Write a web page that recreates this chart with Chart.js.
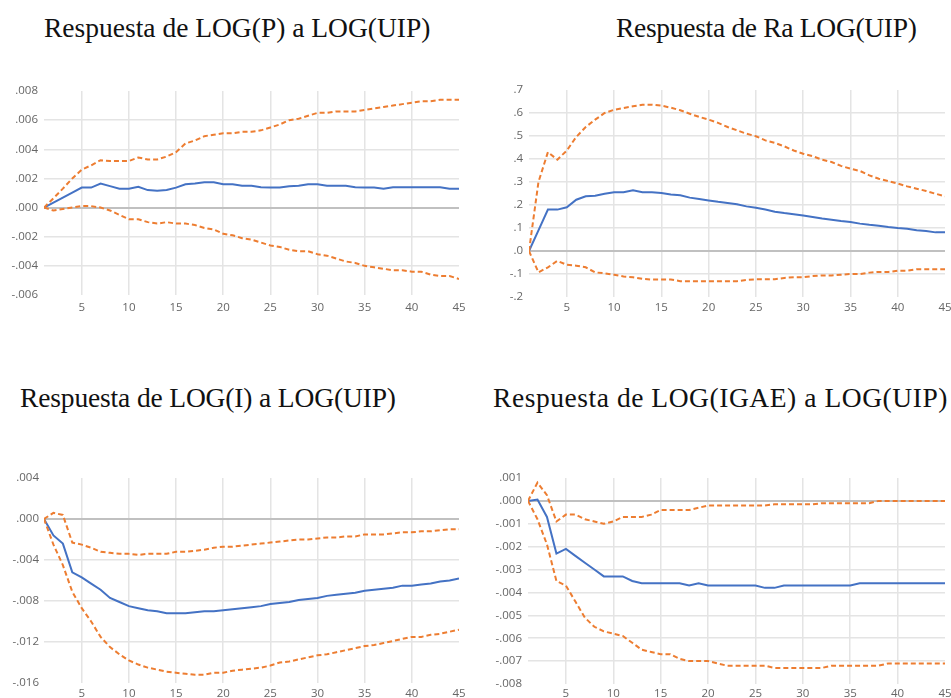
<!DOCTYPE html>
<html lang="es">
<head>
    <meta charset="UTF-8">
    <title>Respuestas a LOG(UIP)</title>
    <script src="https://cdn.jsdelivr.net/npm/chart.js"></script>
    <style>
        html, body { margin: 0; padding: 0; background: #fff; overflow: hidden; }
        body { width: 951px; height: 698px; position: relative; }
        .title {
            position: absolute;
            font-family: "Liberation Serif", "Times New Roman", serif;
            font-size: 27.5px;
            line-height: 1;
            color: #111;
            white-space: nowrap;
        }
        canvas { position: absolute; }
    </style>
</head>
<body>
    <div class="title" style="left:44px; top:14px;">Respuesta de LOG(P) a LOG(UIP)</div>
    <div class="title" style="left:616px; top:14px; letter-spacing:-0.3px;">Respuesta de Ra LOG(UIP)</div>
    <div class="title" style="left:20px; top:384px; letter-spacing:-0.15px;">Respuesta de LOG(I) a LOG(UIP)</div>
    <div class="title" style="left:493px; top:384px; letter-spacing:0.55px;">Respuesta de LOG(IGAE) a LOG(UIP)</div>

    <canvas id="chartP" width="475" height="250" style="left:0; top:70px;"></canvas>
    <canvas id="chartRa" width="490" height="250" style="left:480px; top:70px;"></canvas>
    <canvas id="chartI" width="475" height="238" style="left:0; top:460px;"></canvas>
    <canvas id="chartIgae" width="490" height="238" style="left:480px; top:460px;"></canvas>

    <script>
        // periodos (horizonte de la respuesta)
        const periods = [1, 2, 3, 4, 5, 6, 7, 8, 9, 10, 11, 12, 13, 14, 15, 16, 17, 18, 19, 20,
            21, 22, 23, 24, 25, 26, 27, 28, 29, 30, 31, 32, 33, 34, 35, 36, 37, 38, 39, 40,
            41, 42, 43, 44, 45];
        const xTicks = [5, 10, 15, 20, 25, 30, 35, 40, 45];

        // LOG(P)
        const respP = [0, .00034, .00069, .00103, .00137, .00137, .00165, .00147, .0013, .0013,
            .00142, .0012, .00115, .0012, .00137, .0016, .00165, .00174, .00174, .0016,
            .0016, .0015, .0015, .0014, .00137, .00137, .00147, .0015, .0016, .0016,
            .0015, .0015, .0015, .0014, .00137, .00137, .0013, .0014, .0014, .0014,
            .0014, .0014, .0014, .0013, .0013];
        const upperP = [0, .00064, .0013, .002, .0026, .0029, .00325, .0032, .0032, .0032,
            .00344, .0033, .0033, .0035, .0038, .0044, .0046, .0049, .005, .0051,
            .0051, .0052, .0052, .0053, .0055, .0057, .006, .0061, .0063, .0065,
            .0065, .0066, .0066, .0066, .0067, .0068, .0069, .007, .0071, .0072,
            .0073, .0073, .0074, .0074, .0074];
        const lowerP = [0, -.0002, -.0001, 0, .0001, .0001, 0, -.0002, -.0005, -.0008,
            -.0008, -.001, -.0011, -.001, -.0011, -.0011, -.0012, -.0014, -.0015, -.0018,
            -.0019, -.0021, -.0022, -.0024, -.0026, -.0027, -.0029, -.003, -.003, -.0032,
            -.0033, -.0035, -.0037, -.0038, -.004, -.0041, -.0042, -.0043, -.0043, -.0044,
            -.0044, -.0046, -.0047, -.0047, -.0049];

        // Ra
        const respRa = [0, .09, .18, .18, .19, .223, .238, .24, .249, .255,
            .255, .264, .255, .255, .252, .246, .242, .232, .226, .22,
            .214, .209, .203, .194, .188, .18, .171, .165, .16, .154,
            .148, .141, .136, .13, .126, .119, .114, .11, .104, .1,
            .097, .09, .087, .081, .081];
        const upperRa = [0, .3, .43, .397, .437, .496, .539, .571, .6, .614,
            .622, .629, .636, .636, .632, .623, .612, .597, .583, .571,
            .557, .539, .525, .51, .499, .481, .47, .455, .437, .423,
            .412, .397, .387, .37, .358, .348, .329, .314, .304, .293,
            .281, .271, .261, .249, .238];
        const lowerRa = [0, -.093, -.071, -.043, -.06, -.064, -.071, -.093, -.097, -.103,
            -.111, -.114, -.121, -.124, -.124, -.124, -.131, -.131, -.131, -.131,
            -.131, -.131, -.131, -.126, -.123, -.123, -.123, -.117, -.114, -.114,
            -.109, -.106, -.106, -.103, -.1, -.1, -.094, -.091, -.091, -.086,
            -.086, -.079, -.079, -.079, -.079];

        // LOG(I)
        const respI = [0, -.0016, -.0024, -.0052, -.0057, -.0063, -.0069, -.0077, -.0081, -.0085,
            -.0087, -.0089, -.009, -.0092, -.0092, -.0092, -.0091, -.009, -.009, -.0089,
            -.0088, -.0087, -.0086, -.0085, -.0083, -.0082, -.0081, -.0079, -.0078, -.0077,
            -.0075, -.0074, -.0073, -.0072, -.007, -.0069, -.0068, -.0067, -.0065, -.0065,
            -.0064, -.0063, -.0061, -.006, -.0058];
        const upperI = [0, .0006, .0004, -.0023, -.0025, -.0028, -.0032, -.0033, -.0034, -.0034,
            -.0035, -.0034, -.0034, -.0034, -.0032, -.0032, -.0031, -.003, -.0028, -.0027,
            -.0027, -.0026, -.0025, -.0024, -.0023, -.0022, -.0021, -.002, -.002, -.0019,
            -.0018, -.0018, -.0017, -.0017, -.0015, -.0015, -.0015, -.0014, -.0013, -.0013,
            -.0012, -.0012, -.0011, -.001, -.001];
        const lowerI = [0, -.0025, -.0045, -.0071, -.0087, -.01, -.0115, -.0125, -.0132, -.0138,
            -.0142, -.0145, -.0147, -.0149, -.015, -.0151, -.0152, -.0152, -.015, -.015,
            -.0148, -.0147, -.0146, -.0145, -.0143, -.014, -.0139, -.0137, -.0135, -.0133,
            -.0132, -.013, -.0128, -.0126, -.0124, -.0123, -.0121, -.0119, -.0117, -.0115,
            -.0115, -.0113, -.0112, -.011, -.0108];

        // LOG(IGAE)
        const respIgae = [0, .00006, -.0007, -.0023, -.0021, -.0024, -.0027, -.003, -.0033, -.0033,
            -.0033, -.0035, -.0036, -.0036, -.0036, -.0036, -.0036, -.0037, -.0036, -.0037,
            -.0037, -.0037, -.0037, -.0037, -.0037, -.0038, -.0038, -.0037, -.0037, -.0037,
            -.0037, -.0037, -.0037, -.0037, -.0037, -.0036, -.0036, -.0036, -.0036, -.0036,
            -.0036, -.0036, -.0036, -.0036, -.0036];
        const upperIgae = [0, .0008, .00025, -.0009, -.0006, -.0006, -.0008, -.0009, -.001, -.0009,
            -.0007, -.0007, -.0007, -.0006, -.0004, -.0004, -.0004, -.0004, -.0003, -.0002,
            -.0002, -.0002, -.0002, -.0002, -.0002, -.0002, -.00015, -.00015, -.00015, -.00015,
            -.00015, -.0001, -.0001, -.0001, -.0001, -.0001, -.0001, 0, 0, 0,
            0, 0, 0, 0, 0];
        const lowerIgae = [0, -.0008, -.0019, -.0035, -.0037, -.0044, -.0051, -.0055, -.0057, -.0058,
            -.0059, -.0062, -.0065, -.0066, -.0067, -.0067, -.0069, -.007, -.007, -.007,
            -.0071, -.0072, -.0072, -.0072, -.0072, -.0072, -.0073, -.0073, -.0073, -.0073,
            -.0073, -.0073, -.0072, -.0072, -.0072, -.0072, -.0072, -.0072, -.0071, -.0071,
            -.0071, -.0071, -.0071, -.0071, -.0071];

        const blue = '#4472C4';
        const orange = '#ED7D31';
        const tickFont = { family: '"Open Sans", "DejaVu Sans", sans-serif', size: 11.5 };

        function toPoints(values) {
            return values.map((v, i) => ({ x: periods[i], y: v }));
        }

        // ".008", "-.002", ".0"
        function fmt(v, decimals) {
            if (Math.abs(v) < 1e-12) v = 0;
            return v.toFixed(decimals).replace(/^(-?)0\./, '$1.');
        }

        function makeChart(id, resp, upper, lower, cfg) {
            const ctx = document.getElementById(id).getContext('2d');
            return new Chart(ctx, {
                type: 'line',
                data: {
                    datasets: [
                        { data: toPoints(upper), borderColor: orange, borderWidth: 2, borderDash: [5, 3] },
                        { data: toPoints(lower), borderColor: orange, borderWidth: 2, borderDash: [5, 3] },
                        { data: toPoints(resp), borderColor: blue, borderWidth: 2 }
                    ]
                },
                options: {
                    responsive: false,
                    animation: false,
                    devicePixelRatio: 1,
                    elements: { point: { radius: 0 }, line: { tension: 0 } },
                    layout: { padding: { left: 0, right: cfg.padRight, top: cfg.padTop, bottom: 0 } },
                    plugins: { legend: { display: false }, tooltip: { enabled: false } },
                    scales: {
                        x: {
                            type: 'linear',
                            min: 1,
                            max: 45,
                            border: { display: false },
                            grid: {
                                drawTicks: false,
                                lineWidth: 1.5,
                                color: c => (c.tick && c.tick.value === 45) ? 'rgba(0,0,0,0)' : '#e4e4e4'
                            },
                            ticks: { color: '#666', font: tickFont, padding: cfg.xPad, maxRotation: 0 },
                            afterBuildTicks: s => { s.ticks = xTicks.map(v => ({ value: v })); },
                            afterFit: s => { s.height = cfg.xHeight; }
                        },
                        y: {
                            min: cfg.min,
                            max: cfg.max,
                            border: { display: false },
                            grid: {
                                drawTicks: false,
                                lineWidth: c => (c.tick && Math.abs(c.tick.value) < 1e-12) ? 2 : 1.5,
                                color: c => {
                                    const v = c.tick ? c.tick.value : 0;
                                    if (Math.abs(v) < 1e-12) return '#c0c0c0';
                                    if (Math.abs(v - cfg.max) < 1e-9 || Math.abs(v - cfg.min) < 1e-9) return 'rgba(0,0,0,0)';
                                    return '#e4e4e4';
                                }
                            },
                            ticks: {
                                color: '#666',
                                font: tickFont,
                                padding: cfg.yPad,
                                stepSize: cfg.step,
                                callback: v => fmt(v, cfg.decimals)
                            },
                            afterFit: s => { s.width = cfg.yWidth; }
                        }
                    }
                }
            });
        }

        makeChart('chartP', respP, upperP, lowerP, {
            min: -0.006, max: 0.008, step: 0.002, decimals: 3,
            yWidth: 44, padRight: 16, padTop: 21, xHeight: 25, xPad: 6, yPad: 6
        });
        makeChart('chartRa', respRa, upperRa, lowerRa, {
            min: -0.2, max: 0.7, step: 0.1, decimals: 1,
            yWidth: 49, padRight: 25, padTop: 20, xHeight: 23, xPad: 4, yPad: 6
        });
        makeChart('chartI', respI, upperI, lowerI, {
            min: -0.016, max: 0.004, step: 0.004, decimals: 3,
            yWidth: 44, padRight: 16, padTop: 18, xHeight: 15, xPad: 4, yPad: 5
        });
        makeChart('chartIgae', respIgae, upperIgae, lowerIgae, {
            min: -0.008, max: 0.001, step: 0.001, decimals: 3,
            yWidth: 48, padRight: 25, padTop: 18, xHeight: 14, xPad: 3, yPad: 6
        });
    </script>
</body>
</html>
